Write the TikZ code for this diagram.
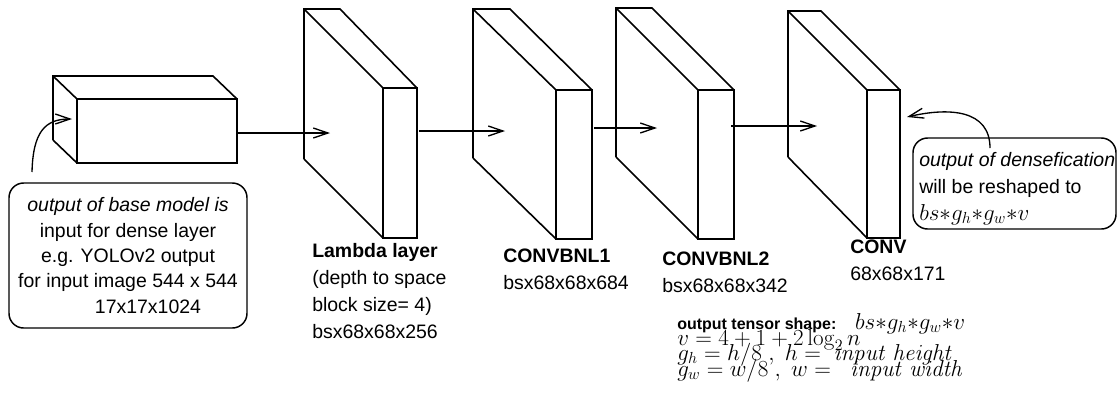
\documentclass[tikz,border=0pt]{standalone}
\usepackage[no-math]{fontspec}
\setmainfont{Liberation Sans}
\usetikzlibrary{arrows.meta}

\tikzset{
  box/.style={line width=1.2pt},
  arr/.style={line width=1pt, -{Straight Barb[length=11pt,width=7.5pt]}},
  note/.style={draw, line width=1.1pt, rounded corners=11pt},
  lbl/.style={font=\fontsize{14.6}{20.3}\selectfont, align=left, inner sep=0pt, anchor=north west},
  frm/.style={font=\fontsize{16.5}{16.5}\selectfont, inner sep=0pt, anchor=base west}
}

\begin{document}
\begin{tikzpicture}[x=0.75pt, y=-0.75pt]
\useasboundingbox (0,0) rectangle (1118,405);

% base model output
\draw[box] (53,140) -- (53,76) -- (213,76) -- (237,99);
\draw[box] (53,76) -- (77,99);
\draw[box] (53,140) -- (77,163);
\draw[box] (77,99) rectangle (237,163);

% lambda layer
\draw[box] (304,159) -- (304,9) -- (340,9) -- (417,88);
\draw[box] (304,9) -- (383,88);
\draw[box] (304,159) -- (383,238);
\draw[box] (383,88) rectangle (417,238);

% convbnl1
\draw[box] (473,158) -- (473,9) -- (510,9) -- (592,90);
\draw[box] (473,9) -- (556,90);
\draw[box] (473,158) -- (556,239);
\draw[box] (556,90) rectangle (592,239);

% convbnl2
\draw[box] (616,157) -- (616,8) -- (652,8) -- (734,90);
\draw[box] (616,8) -- (698,90);
\draw[box] (616,157) -- (698,239);
\draw[box] (698,90) rectangle (734,239);

% conv
\draw[box] (788,157) -- (788,11) -- (821,11) -- (900,90);
\draw[box] (788,11) -- (867,90);
\draw[box] (788,157) -- (867,238);
\draw[box] (867,90) rectangle (900,238);

\coordinate (base-out) at (237,133);
\coordinate (lambda-in) at (330,133);
\coordinate (lambda-out) at (419,131);
\coordinate (convbnl1-in) at (505,131);
\coordinate (convbnl1-out) at (594,128);
\coordinate (convbnl2-in) at (657,128);
\coordinate (convbnl2-out) at (731,126);
\coordinate (conv-in) at (817,126);

\draw[arr] (base-out) -- (lambda-in);
\draw[arr] (lambda-out) -- (convbnl1-in);
\draw[arr] (convbnl1-out) -- (convbnl2-in);
\draw[arr] (convbnl2-out) -- (conv-in);

% layer labels
\node[lbl] (lambdalbl) at (312,243) {\textbf{Lambda layer}\\(depth to space\\block size= 4)\\bsx68x68x256};
\node[lbl] (convbnl1lbl) at (503,249) {\textbf{CONVBNL1}\\bsx68x68x684};
\node[lbl] (convbnl2lbl) at (662,252) {\textbf{CONVBNL2}\\bsx68x68x342};
\node[lbl] (convlbl) at (850,240) {\textbf{CONV}\\68x68x171};

% notes
\node[note, minimum width=178.5pt, minimum height=108.75pt, align=center,
  font=\fontsize{14.6}{19}\selectfont, inner sep=0pt] (basenote) at (128,255.5)
  {\textit{output of base model is}\\input for dense layer\\e.g. YOLOv2 output\\for input image 544 x 544\\\hspace*{30pt}17x17x1024};
\coordinate (base-from) at (32,172);
\coordinate (base-side) at (72,119);
\draw[arr] (base-from) .. controls (33,132) and (45,119) .. (base-side);

\draw[note] (913,138) rectangle (1116,229);
\node[lbl] (densenote) at (919,152)
  {\textit{output of densefication}\\will be reshaped to\\{\fontsize{17}{17}\selectfont$bs{*}g_h{*}g_w{*}v$}};
\coordinate (dense-from) at (990,148);
\coordinate (conv-side) at (907,117);
\draw[arr] (dense-from) .. controls (990,110) and (950,107) .. (conv-side);

% output shape
\node[frm] (shapelbl) at (677,329) {\textbf{\fontsize{12}{12}\selectfont output tensor shape:}\hspace{14pt}$bs{*}g_h{*}g_w{*}v$};
\node[frm] (vline) at (677,345) {$v = 4 + 1 + 2\log_2 n$};
\node[frm] (ghline) at (677,360) {$g_h = h/8\;,\; h = \;\mathit{input\ height}$};
\node[frm] (gwline) at (677,376) {$g_w = w/8\;,\; w = \;\;\mathit{input\ width}$};
\end{tikzpicture}
\end{document}
